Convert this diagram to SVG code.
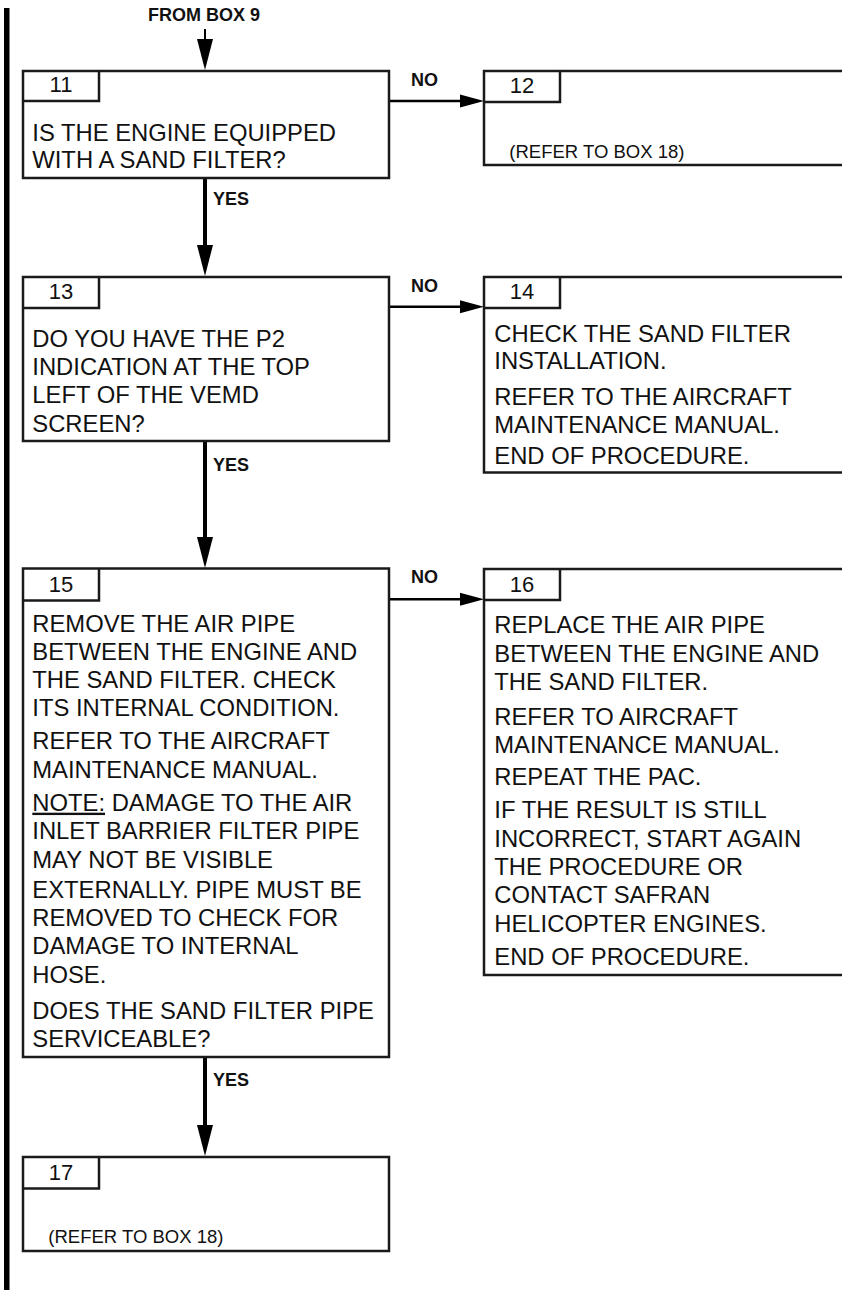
<svg xmlns="http://www.w3.org/2000/svg" width="842" height="1291" viewBox="0 0 842 1291">
<style>
.box{fill:#fff;stroke:#1a1a1a;stroke-width:2.5}
.tab{fill:none;stroke:#1a1a1a;stroke-width:2.5}
.t{font-family:"Liberation Sans",Arial,sans-serif;font-size:23.8px;fill:#111}
.n{font-family:"Liberation Sans",Arial,sans-serif;font-size:22px;fill:#111;text-anchor:middle}
.s{font-family:"Liberation Sans",Arial,sans-serif;font-size:18.5px;fill:#111}
.b{font-family:"Liberation Sans",Arial,sans-serif;font-size:18px;font-weight:bold;fill:#111}
.v{stroke:#000;stroke-width:4;fill:none}
.h{stroke:#000;stroke-width:2.5;fill:none}
</style>
<defs>
<marker id="av" markerUnits="userSpaceOnUse" markerWidth="32" markerHeight="16" refX="0" refY="8" orient="auto" overflow="visible">
<path d="M0,0 L31,8 L0,16 Z" fill="#000"/>
</marker>
<marker id="ah" markerUnits="userSpaceOnUse" markerWidth="24" markerHeight="14" refX="0" refY="6.5" orient="auto" overflow="visible">
<path d="M0,0 L24,6.5 L0,13 Z" fill="#000"/>
</marker>
</defs>
<rect x="4" y="8" width="5.5" height="1282" fill="#000"/>
<g id="connectors">
<text class="b" x="148" y="20.5">FROM BOX 9</text>
<line class="h" x1="205" y1="29" x2="205" y2="39" marker-end="url(#av)" style="stroke-width:2"/>
<line class="v" x1="205" y1="179" x2="205" y2="245" marker-end="url(#av)"/>
<text class="b" x="213" y="205">YES</text>
<line class="v" x1="205" y1="442" x2="205" y2="537" marker-end="url(#av)"/>
<text class="b" x="213" y="471">YES</text>
<line class="v" x1="205" y1="1058" x2="205" y2="1125" marker-end="url(#av)"/>
<text class="b" x="213" y="1086">YES</text>
<line class="h" x1="389" y1="101" x2="460" y2="101" marker-end="url(#ah)"/>
<text class="b" x="411" y="85.7">NO</text>
<line class="h" x1="389" y1="306.7" x2="460" y2="306.7" marker-end="url(#ah)"/>
<text class="b" x="411" y="291.7">NO</text>
<line class="h" x1="389" y1="599.3" x2="460" y2="599.3" marker-end="url(#ah)"/>
<text class="b" x="411" y="583.3">NO</text>
</g>
<g id="box11">
<rect class="box" x="23" y="71" width="366" height="107"/>
<path class="tab" d="M23,101 H99 V71"/>
<text class="n" x="61" y="92">11</text>
<text class="t" x="32.3" y="140.7">IS THE ENGINE EQUIPPED</text>
<text class="t" x="32.3" y="168.3">WITH A SAND FILTER?</text>
</g>
<g id="box12">
<rect class="box" x="484" y="71" width="400" height="94"/>
<path class="tab" d="M484,102 H560 V71"/>
<text class="n" x="522" y="93">12</text>
<text class="s" x="509.3" y="158.3">(REFER TO BOX 18)</text>
</g>
<g id="box13">
<rect class="box" x="23" y="277" width="366" height="164"/>
<path class="tab" d="M23,308 H99 V277"/>
<text class="n" x="61" y="298.5">13</text>
<text class="t" x="32.3" y="346.7">DO YOU HAVE THE P2</text>
<text class="t" x="32.3" y="375">INDICATION AT THE TOP</text>
<text class="t" x="32.3" y="403.3">LEFT OF THE VEMD</text>
<text class="t" x="32.3" y="431.7">SCREEN?</text>
</g>
<g id="box14">
<rect class="box" x="484" y="277" width="400" height="195.5"/>
<path class="tab" d="M484,308 H560 V277"/>
<text class="n" x="522" y="298.5">14</text>
<text class="t" x="494.3" y="341.7">CHECK THE SAND FILTER</text>
<text class="t" x="494.3" y="369.3">INSTALLATION.</text>
<text class="t" x="494.3" y="405">REFER TO THE AIRCRAFT</text>
<text class="t" x="494.3" y="432.7">MAINTENANCE MANUAL.</text>
<text class="t" x="494.3" y="464">END OF PROCEDURE.</text>
</g>
<g id="box15">
<rect class="box" x="23" y="568.5" width="366" height="488.5"/>
<path class="tab" d="M23,600.5 H99 V568.5"/>
<text class="n" x="61" y="591.5">15</text>
<text class="t" x="32.3" y="631.7">REMOVE THE AIR PIPE</text>
<text class="t" x="32.3" y="660">BETWEEN THE ENGINE AND</text>
<text class="t" x="32.3" y="687.7">THE SAND FILTER. CHECK</text>
<text class="t" x="32.3" y="716">ITS INTERNAL CONDITION.</text>
<text class="t" x="32.3" y="749">REFER TO THE AIRCRAFT</text>
<text class="t" x="32.3" y="778.3">MAINTENANCE MANUAL.</text>
<text class="t" x="32.3" y="810.7"><tspan text-decoration="underline">NOTE:</tspan> DAMAGE TO THE AIR</text>
<text class="t" x="32.3" y="839.3">INLET BARRIER FILTER PIPE</text>
<text class="t" x="32.3" y="868.3">MAY NOT BE VISIBLE</text>
<text class="t" x="32.3" y="897.7">EXTERNALLY. PIPE MUST BE</text>
<text class="t" x="32.3" y="925.7">REMOVED TO CHECK FOR</text>
<text class="t" x="32.3" y="954">DAMAGE TO INTERNAL</text>
<text class="t" x="32.3" y="983.3">HOSE.</text>
<text class="t" x="32.3" y="1019.3">DOES THE SAND FILTER PIPE</text>
<text class="t" x="32.3" y="1047.3">SERVICEABLE?</text>
</g>
<g id="box16">
<rect class="box" x="484" y="569" width="400" height="406"/>
<path class="tab" d="M484,600 H560 V569"/>
<text class="n" x="522" y="592">16</text>
<text class="t" x="494.3" y="633.3">REPLACE THE AIR PIPE</text>
<text class="t" x="494.3" y="661.7">BETWEEN THE ENGINE AND</text>
<text class="t" x="494.3" y="690">THE SAND FILTER.</text>
<text class="t" x="494.3" y="725">REFER TO AIRCRAFT</text>
<text class="t" x="494.3" y="753.3">MAINTENANCE MANUAL.</text>
<text class="t" x="494.3" y="785">REPEAT THE PAC.</text>
<text class="t" x="494.3" y="818.3">IF THE RESULT IS STILL</text>
<text class="t" x="494.3" y="846.7">INCORRECT, START AGAIN</text>
<text class="t" x="494.3" y="875">THE PROCEDURE OR</text>
<text class="t" x="494.3" y="903.3">CONTACT SAFRAN</text>
<text class="t" x="494.3" y="931.7">HELICOPTER ENGINES.</text>
<text class="t" x="494.3" y="965">END OF PROCEDURE.</text>
</g>
<g id="box17">
<rect class="box" x="23" y="1157" width="366" height="94"/>
<path class="tab" d="M23,1188.5 H99 V1157"/>
<text class="n" x="61" y="1180">17</text>
<text class="s" x="48.3" y="1243.3">(REFER TO BOX 18)</text>
</g>
</svg>
